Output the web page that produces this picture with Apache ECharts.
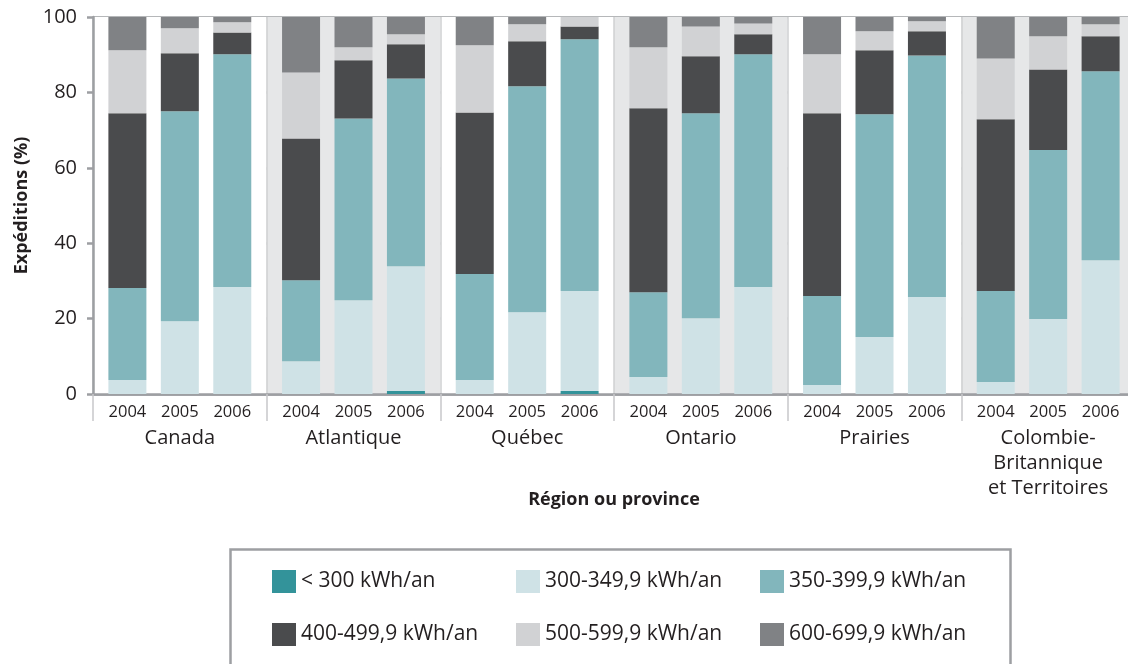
<!DOCTYPE html>
<html lang="fr">
<head>
<meta charset="utf-8">
<title>Expéditions par région</title>
<script src="https://cdn.jsdelivr.net/npm/echarts@6/dist/echarts.min.js"></script>
<style>
  html, body { margin: 0; padding: 0; background: #ffffff; }
  #chart { width: 1128px; height: 664px; }
</style>
</head>
<body>
<div id="chart"></div>
<script>
// Regions (x categories) and the three years shown in each region
const regions = ['Canada', 'Atlantique', 'Québec', 'Ontario', 'Prairies', 'Colombie-\nBritannique\net Territoires'];
const years = ['2004', '2005', '2006'];
const yTicks = [0, 20, 40, 60, 80, 100];

// Consumption bands, bottom to top of each stack
const bands = ['< 300 kWh/an', '300-349,9 kWh/an', '350-399,9 kWh/an', '400-499,9 kWh/an', '500-599,9 kWh/an', '600-699,9 kWh/an'];
const bandColors = ['#33939a', '#cfe2e6', '#82b6bc', '#4a4b4d', '#d1d2d4', '#808285'];

// Share of shipments (%) per band, listed region by region, 2004/2005/2006
const below300 = [0, 0, 0,      0, 0, 0.8,      0, 0, 0.8,      0, 0, 0,        0, 0, 0,        0, 0, 0];
const kwh300   = [3.7, 19.3, 28.4, 8.7, 24.9, 33.1, 3.7, 21.7, 26.5, 4.5, 20.1, 28.4, 2.4, 15.1, 25.7, 3.2, 19.9, 35.5];
const kwh350   = [24.4, 55.7, 61.7, 21.5, 48.2, 49.8, 28.1, 59.9, 66.8, 22.5, 54.4, 61.7, 23.6, 59.1, 64.1, 24.1, 44.8, 50.1];
const kwh400   = [46.4, 15.4, 5.8, 37.6, 15.4, 9.1, 42.9, 12.0, 3.4, 48.8, 15.1, 5.3, 48.5, 17.0, 6.4, 45.6, 21.4, 9.3];
const kwh500   = [16.7, 6.6, 2.7, 17.5, 3.5, 2.6, 17.8, 4.5, 2.5, 16.2, 7.9, 2.9, 15.6, 5.0, 2.7, 16.1, 8.8, 3.2];
const kwh600   = [8.8, 3.0, 1.4, 14.7, 8.0, 4.6, 7.5, 1.9, 0, 8.0, 2.5, 1.7, 9.9, 3.8, 1.1, 11.0, 5.1, 1.9];

const bandValues = [below300, kwh300, kwh350, kwh400, kwh500, kwh600];

const FONT = '"Open Sans", "Noto Sans", sans-serif';
const TEXT = '#231f20';
const GRID_GREY = '#9d9fa2';

// One stack per year; each band is a series inside that stack
const series = [];
years.forEach((yr, yi) => {
  bands.forEach((band, bi) => {
    const s = {
      name: band,
      type: 'bar',
      stack: yr,
      barWidth: 38,
      barGap: '38%',
      itemStyle: { color: bandColors[bi] },
      emphasis: { disabled: true },
      data: regions.map((_, ri) => bandValues[bi][ri * 3 + yi])
    };
    if (bi === 0) {
      // year label under the base of each stack
      s.label = {
        show: true,
        position: 'bottom',
        distance: 10,
        formatter: () => yr,
        color: TEXT,
        fontFamily: FONT,
        fontSize: 16.5
      };
    }
    series.push(s);
  });
});

const legendBase = {
  orient: 'vertical',
  top: 570,
  padding: 0,
  itemWidth: 24,
  itemHeight: 23,
  itemGap: 30,
  icon: 'rect',
  selectedMode: false,
  textStyle: { color: TEXT, fontFamily: FONT, fontSize: 21 }
};

const chart = echarts.init(document.getElementById('chart'), null, { renderer: 'canvas' });
chart.setOption({
  animation: false,
  backgroundColor: '#ffffff',
  textStyle: { fontFamily: FONT },
  grid: { left: 93, right: -7, top: 17, bottom: 270, containLabel: false, outerBoundsMode: 'none' },
  legend: [
    Object.assign({}, legendBase, { left: 272, data: [bands[0], bands[3]] }),
    Object.assign({}, legendBase, { left: 516, data: [bands[1], bands[4]] }),
    Object.assign({}, legendBase, { left: 760, data: [bands[2], bands[5]] })
  ],
  graphic: [{
    type: 'rect',
    left: 228,
    top: 547,
    silent: true,
    shape: { width: 780, height: 160 },
    style: { fill: 'none', stroke: GRID_GREY, lineWidth: 2.5 }
  }],
  xAxis: {
    type: 'category',
    data: regions,
    name: 'Région ou province',
    nameLocation: 'middle',
    nameGap: 97,
    nameMoveOverlap: false,
    nameTextStyle: { color: TEXT, fontFamily: FONT, fontSize: 18, fontWeight: 'bold' },
    axisLine: { show: true, lineStyle: { color: GRID_GREY, width: 2.5 } },
    axisTick: { show: true, interval: 0, length: 27, lineStyle: { color: '#c7c8ca', width: 1.5 } },
    axisLabel: {
      interval: 0, margin: 32, color: TEXT, fontFamily: FONT, fontSize: 20, lineHeight: 25
    },
    splitLine: { show: true, interval: 0, lineStyle: { color: '#cfd0d2', width: 1.5 } },
    splitArea: { show: true, interval: 0, areaStyle: { color: ['#ffffff', '#e6e7e8'] } }
  },
  yAxis: {
    type: 'value',
    min: 0,
    max: 100,
    interval: 20,
    name: 'Expéditions (%)',
    nameLocation: 'middle',
    nameGap: 62,
    nameMoveOverlap: false,
    nameTextStyle: { color: TEXT, fontFamily: FONT, fontSize: 18, fontWeight: 'bold' },
    axisLine: { show: true, lineStyle: { color: GRID_GREY, width: 2.5 } },
    axisTick: { show: true, length: 6, lineStyle: { color: GRID_GREY, width: 2.5 } },
    axisLabel: {
      margin: 16, color: TEXT, fontFamily: FONT, fontSize: 20,
      formatter: v => (yTicks.includes(v) ? String(v) : '')
    },
    splitLine: { show: true, lineStyle: { color: GRID_GREY, width: 2.5 } }
  },
  series: series
});
</script>
</body>
</html>
